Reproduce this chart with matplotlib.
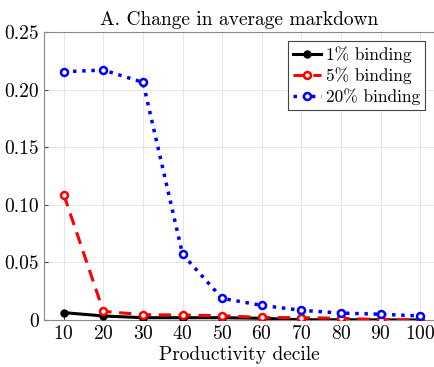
import matplotlib
matplotlib.use('Agg')
import matplotlib.pyplot as plt

plt.rcParams['font.family'] = 'serif'
plt.rcParams['font.serif'] = ['cmr10']
plt.rcParams['mathtext.fontset'] = 'cm'
plt.rcParams['axes.formatter.use_mathtext'] = True

deciles = [10, 20, 30, 40, 50, 60, 70, 80, 90, 100]
bind1 = [0.0064, 0.0035, 0.0020, 0.0020, 0.0020, 0.0015, 0.0002, 0.0002, 0.0001, 0.0000]
bind5 = [0.1088, 0.0075, 0.0046, 0.0043, 0.0037, 0.0022, 0.0020, 0.0015, 0.0003, 0.0000]
bind20 = [0.2155, 0.2170, 0.2063, 0.0570, 0.0188, 0.0127, 0.0084, 0.0060, 0.0050, 0.0035]
yticks = [0, 0.05, 0.10, 0.15, 0.20, 0.25]
ylabels = ['0', '0.05', '0.10', '0.15', '0.20', '0.25']

fig = plt.figure(figsize=(4.35, 3.67), dpi=100)
ax = fig.add_axes([44/435, 1 - 320/367, 390/435, 288/367])

ax.plot(deciles, bind1, '-', color='black', lw=2.2, marker='o', ms=5,
        mfc='black', mec='black', label='1% binding', zorder=3)
ax.plot(deciles, bind5, '--', color='red', lw=2.2, marker='o', ms=5,
        mfc='white', mec='red', mew=1.8, dashes=(4, 2.5), label='5% binding', zorder=3)
ax.plot(deciles, bind20, ':', color='blue', lw=2.5, marker='o', ms=5,
        mfc='white', mec='blue', mew=1.8, label='20% binding', zorder=4)

ax.set_xlim(5, 103.5)
ax.set_ylim(0, 0.25)
ax.set_xticks(deciles)
ax.set_yticks(yticks)
ax.set_yticklabels(ylabels)
ax.tick_params(direction='in', labelsize=14, length=3, color='#444444')
ax.grid(True, color='#e6e6e6', lw=0.7)
ax.set_axisbelow(True)
for s in ax.spines.values():
    s.set_color('#888888')
    s.set_linewidth(0.8)

ax.set_title('A. Change in average markdown', fontsize=14, pad=5)
ax.set_xlabel('Productivity decile', fontsize=14, labelpad=2)

leg = ax.legend(loc='upper right', fontsize=12.5, fancybox=False, edgecolor='#444444',
                framealpha=1, handlelength=1.6, handletextpad=0.3, borderpad=0.3,
                labelspacing=0.25, borderaxespad=0.5)
leg.get_frame().set_linewidth(0.8)

fig.savefig('out.png', dpi=100)
